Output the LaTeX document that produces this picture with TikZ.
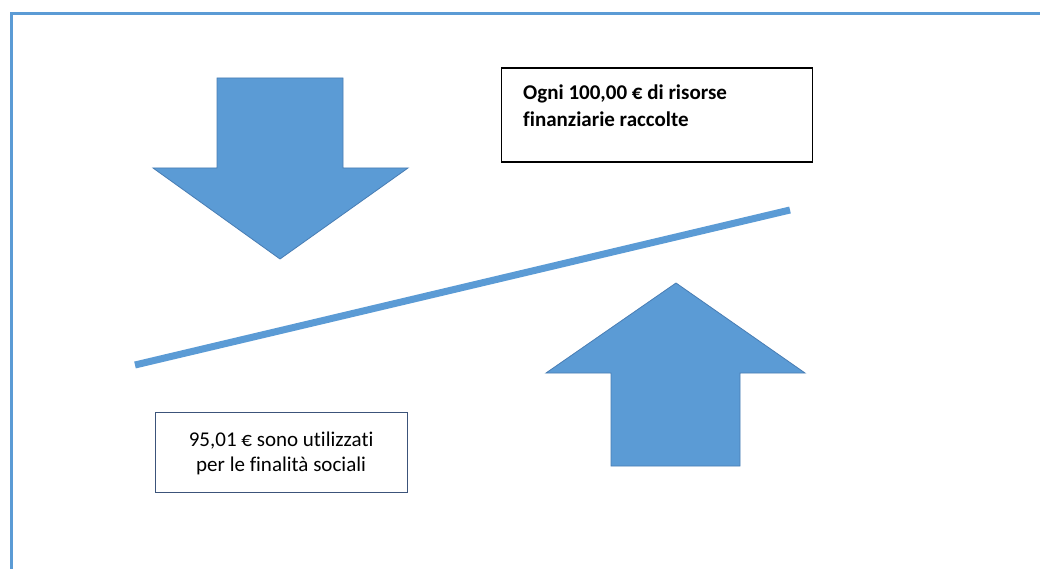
\documentclass[tikz,border=0pt]{standalone}
\usepackage{fontspec}
\setmainfont{Carlito}[Ligatures={NoCommon,NoRequired,NoContextual}]
\definecolor{officeblue}{RGB}{91,155,213}
\definecolor{arrowedge}{RGB}{72,125,180}
\definecolor{boxedge}{RGB}{60,84,122}
\begin{document}
\begin{tikzpicture}[x=1pt,y=-1pt,
  framestyle/.style={draw=officeblue, line width=3pt},
  bigarrow/.style={fill=officeblue, draw=arrowedge, line width=0.8pt, line join=miter},
  beam/.style={draw=officeblue, line width=7pt},
  boxone/.style={draw=black, line width=1.5pt, minimum width=311pt, minimum height=94pt, anchor=north west, inner sep=0pt},
  boxtwo/.style={draw=boxedge, line width=1.2pt, minimum width=252pt, minimum height=80pt, anchor=north west, inner sep=0pt},
  txt/.style={font=\fontsize{21}{27}\selectfont, inner sep=0pt}
]
\useasboundingbox (0,0) rectangle (1040,569);
\fill[white] (0,0) rectangle (1040,569);
% frame
\coordinate (fbl) at (11.5,569);
\coordinate (ftr) at (1040,13.5);
\draw[framestyle] (fbl) |- (ftr);
% down arrow
\filldraw[bigarrow] (217,78) -- (343,78) -- (343,168) -- (408,168) -- (280,259) -- (153,168) -- (217,168) -- cycle;
% up arrow
\filldraw[bigarrow] (676,283) -- (805,373) -- (740,373) -- (740,466) -- (611,466) -- (611,373) -- (546,373) -- cycle;
% beam
\coordinate (bl) at (135,365);
\coordinate (br) at (790,210);
\draw[beam] (bl) -- (br);
% box 1
\node[boxone] (b1) at (500.5,67.5) {};
\node[txt, anchor=north west, align=left, font=\fontsize{21}{27}\selectfont\bfseries] (t1) at (523,85) {Ogni 100,00 € di risorse\\finanziarie raccolte};
% box 2
\node[boxtwo] (b2) at (154.5,411.5) {};
\node[txt, align=center, text=black] (t2) at ([yshift=-1pt]b2.center) {95,01 € sono utilizzati\\[-2pt]per le finalità sociali};
\end{tikzpicture}
\end{document}
